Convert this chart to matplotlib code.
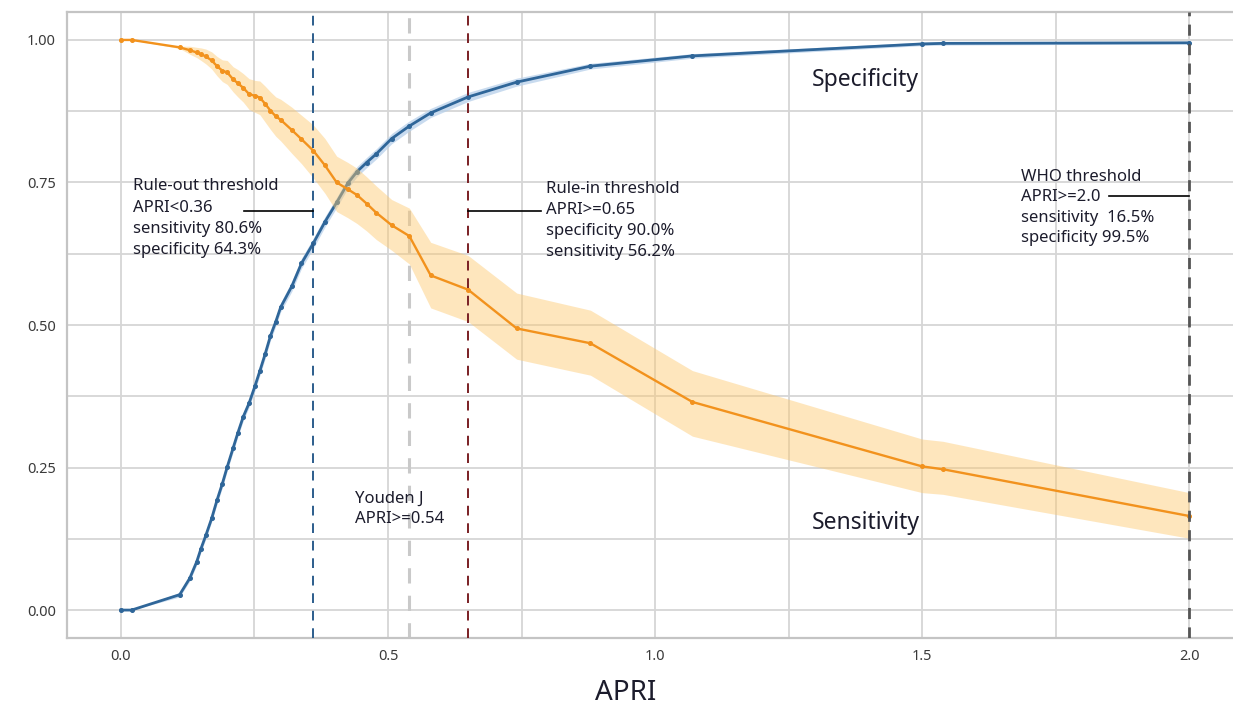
import matplotlib
matplotlib.use("Agg")
import matplotlib.pyplot as plt
from matplotlib.ticker import MultipleLocator

plt.rcParams["font.family"] = ["Noto Sans", "DejaVu Sans"]

# APRI cut-offs (shared by both curves)
apri = [0.0, 0.02, 0.11, 0.129, 0.142, 0.15, 0.159, 0.17, 0.18, 0.19,
        0.199, 0.21, 0.219, 0.229, 0.24, 0.251, 0.26, 0.27, 0.28, 0.29,
        0.299, 0.32, 0.338, 0.36, 0.382, 0.404, 0.425, 0.442, 0.46, 0.478,
        0.507, 0.54, 0.58, 0.65, 0.741, 0.879, 1.07, 1.5, 1.539, 2.0]

specificity = [0.0, 0.0, 0.027, 0.056, 0.085, 0.108, 0.131, 0.161, 0.193, 0.222,
               0.251, 0.284, 0.311, 0.339, 0.363, 0.393, 0.419, 0.449, 0.481, 0.506,
               0.531, 0.568, 0.608, 0.643, 0.681, 0.715, 0.749, 0.769, 0.785, 0.800,
               0.827, 0.849, 0.872, 0.900, 0.926, 0.954, 0.972, 0.993, 0.994, 0.995]
spec_halfwidth = [0.0, 0.0, 0.004, 0.005, 0.006, 0.006, 0.006, 0.006, 0.007, 0.007,
                  0.007, 0.007, 0.007, 0.007, 0.007, 0.008, 0.008, 0.008, 0.008, 0.008,
                  0.008, 0.009, 0.009, 0.009, 0.009, 0.009, 0.009, 0.009, 0.009, 0.009,
                  0.009, 0.009, 0.008, 0.008, 0.007, 0.005, 0.004, 0.003, 0.003, 0.002]

sensitivity = [1.0, 1.0, 0.987, 0.982, 0.978, 0.975, 0.971, 0.964, 0.954, 0.946,
               0.943, 0.931, 0.924, 0.916, 0.905, 0.902, 0.899, 0.888, 0.876, 0.866,
               0.860, 0.842, 0.826, 0.806, 0.780, 0.750, 0.738, 0.728, 0.713, 0.697,
               0.675, 0.656, 0.587, 0.562, 0.494, 0.468, 0.365, 0.252, 0.247, 0.165]
sens_lo = [1.0, 1.0, 0.985, 0.975, 0.969, 0.964, 0.958, 0.949, 0.937, 0.927,
           0.922, 0.909, 0.900, 0.891, 0.878, 0.873, 0.869, 0.856, 0.843, 0.831,
           0.823, 0.801, 0.783, 0.758, 0.731, 0.699, 0.688, 0.678, 0.665, 0.650,
           0.631, 0.607, 0.530, 0.506, 0.440, 0.412, 0.305, 0.206, 0.203, 0.126]
sens_hi = [1.0, 1.0, 0.989, 0.989, 0.987, 0.986, 0.984, 0.979, 0.971, 0.965,
           0.964, 0.953, 0.948, 0.941, 0.932, 0.929, 0.928, 0.919, 0.909, 0.900,
           0.896, 0.882, 0.868, 0.851, 0.827, 0.796, 0.785, 0.775, 0.760, 0.744,
           0.720, 0.705, 0.645, 0.622, 0.556, 0.526, 0.420, 0.300, 0.296, 0.206]

blue = "#2f6699"
orange = "#f2921d"
txt = "#1c1c2c"

fig = plt.figure(figsize=(12.33, 7.06), dpi=100)
ax = fig.add_axes([0.0543, 0.0963, 0.9457, 0.8867])

spec_lo = [s - h for s, h in zip(specificity, spec_halfwidth)]
spec_hi = [s + h for s, h in zip(specificity, spec_halfwidth)]
ax.fill_between(apri, spec_lo, spec_hi, color="#b7d0ea", alpha=0.75, lw=0, zorder=2)
ax.plot(apri, specificity, color=blue, lw=2.0, marker="o", ms=2.6, zorder=3)

ax.fill_between(apri, sens_lo, sens_hi, color="#fdc86e", alpha=0.45, lw=0, zorder=4)
ax.plot(apri, sensitivity, color=orange, lw=1.7, marker="o", ms=2.6, zorder=5)

# threshold lines
ax.axvline(0.36, color="#2c5d8c", ls=(0, (5, 4)), lw=1.4, zorder=6)
ax.axvline(0.54, color="#c9c9c9", ls=(0, (5, 4)), lw=2.2, zorder=1.5)
ax.axvline(0.65, color="#7a1f24", ls=(0, (5, 4)), lw=1.4, zorder=6)
ax.axvline(2.0, color="#555555", ls=(0, (4, 3)), lw=2.0, zorder=6)

# connectors
ax.plot([0.23, 0.36], [0.70, 0.70], color="black", lw=1.2, zorder=7)
ax.plot([0.65, 0.787], [0.70, 0.70], color="black", lw=1.2, zorder=7)
ax.plot([1.85, 2.0], [0.727, 0.727], color="black", lw=1.2, zorder=7)

fs = 12
ax.text(0.0225, 0.757, "Rule-out threshold\nAPRI<0.36\nsensitivity 80.6%\nspecificity 64.3%",
        fontsize=fs, color=txt, va="top", ha="left", linespacing=1.42, zorder=8)
ax.text(0.796, 0.753, "Rule-in threshold\nAPRI>=0.65\nspecificity 90.0%\nsensitivity 56.2%",
        fontsize=fs, color=txt, va="top", ha="left", linespacing=1.42, zorder=8)
ax.text(1.686, 0.774, "WHO threshold\nAPRI>=2.0\nsensitivity  16.5%\nspecificity 99.5%",
        fontsize=fs, color=txt, va="top", ha="left", linespacing=1.38, zorder=8)
ax.text(0.438, 0.21, "Youden J\nAPRI>=0.54", fontsize=fs, color=txt,
        va="top", ha="left", linespacing=1.42, zorder=8)

ax.text(1.393, 0.93, "Specificity", fontsize=16.5, color=txt, ha="center", va="center")
ax.text(1.395, 0.153, "Sensitivity", fontsize=16.5, color=txt, ha="center", va="center")

ax.set_xlim(-0.101, 2.082)
ax.set_ylim(-0.049, 1.049)
ax.set_xticks([0.0, 0.5, 1.0, 1.5, 2.0])
ax.set_yticks([0.0, 0.25, 0.5, 0.75, 1.0])
ax.set_yticklabels(["0.00", "0.25", "0.50", "0.75", "1.00"])
ax.set_xticklabels(["0.0", "0.5", "1.0", "1.5", "2.0"])
ax.xaxis.set_minor_locator(MultipleLocator(0.25))
ax.yaxis.set_minor_locator(MultipleLocator(0.125))
ax.grid(which="both", color="#d6d6d6", lw=1.3, zorder=0)
ax.set_axisbelow(True)
ax.tick_params(which="both", length=0, labelsize=10.5, labelcolor="#3a3a3a", pad=8)

for s in ["left", "bottom", "top"]:
    ax.spines[s].set_color("#c4c4c4")
    ax.spines[s].set_linewidth(1.6)
ax.spines["right"].set_visible(False)

ax.set_xlabel("APRI", fontsize=20, color=txt, labelpad=10)
ax.xaxis.set_label_coords(0.479, -0.065)

fig.savefig("out.png", dpi=100)
